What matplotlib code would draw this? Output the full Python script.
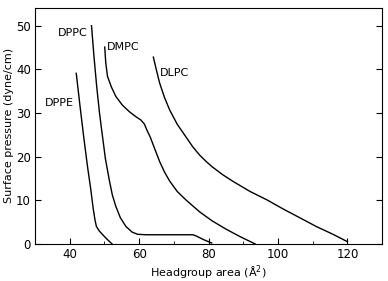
import matplotlib
matplotlib.use("Agg")
import matplotlib.pyplot as plt
from matplotlib.ticker import MultipleLocator

# isotermas pressão x área
dppe_area = [41.9, 43.0, 44.1, 45.1, 46.1, 46.8, 47.3, 47.7, 48.5, 50.0, 51.0, 52.2]
dppe_pi = [39.1, 31.5, 24.2, 18.0, 12.4, 8.0, 5.5, 4.0, 3.0, 1.7, 0.9, 0.0]

dppc_area = [46.3, 47.0, 47.8, 48.6, 49.4, 50.3, 51.4, 52.3, 53.3, 54.6, 56.2, 58.0,
             59.6, 62.0, 70.0, 75.5, 76.5, 78.5, 80.9]
dppc_pi = [50.0, 43.0, 36.0, 30.0, 25.0, 19.5, 14.7, 11.2, 8.6, 6.0, 4.0, 2.7,
           2.2, 2.1, 2.1, 2.1, 1.8, 1.0, 0.2]

dmpc_area = [50.1, 50.4, 50.9, 52.0, 53.3, 55.2, 57.2, 59.0, 60.5, 61.5, 62.3, 63.2,
             64.5, 65.9, 67.3, 68.8, 71.0, 73.6, 77.5, 81.0, 85.0, 89.0, 93.4]
dmpc_pi = [45.1, 41.5, 38.4, 36.0, 33.8, 31.8, 30.3, 29.2, 28.4, 27.5, 26.0, 24.5,
           21.8, 18.9, 16.5, 14.4, 12.0, 10.0, 7.3, 5.3, 3.4, 1.7, 0.0]

dlpc_area = [64.1, 65.0, 65.9, 67.3, 68.8, 71.0, 73.6, 75.5, 77.5, 79.3, 81.0, 84.0,
             87.1, 92.0, 96.8, 101.5, 106.5, 111.0, 116.1, 120.0]
dlpc_pi = [42.8, 39.8, 36.9, 33.6, 30.7, 27.4, 24.4, 22.2, 20.3, 18.9, 17.7, 15.9,
           14.3, 12.0, 10.1, 8.0, 5.9, 4.0, 2.1, 0.5]

fig = plt.figure(figsize=(3.88, 2.81), dpi=100)
ax = fig.add_axes([0.09, 0.132, 0.895, 0.84])

for xs, ys in [(dppe_area, dppe_pi), (dppc_area, dppc_pi), (dmpc_area, dmpc_pi), (dlpc_area, dlpc_pi)]:
    ax.plot(xs, ys, color="black", lw=1.0, solid_joinstyle="round")

# rótulos das curvas
ax.text(36.9, 32.3, "DPPE", ha="center", va="center", fontsize=8)
ax.text(41.0, 48.4, "DPPC", ha="center", va="center", fontsize=8)
ax.text(55.4, 45.2, "DMPC", ha="center", va="center", fontsize=8)
ax.text(70.2, 39.2, "DLPC", ha="center", va="center", fontsize=8)

ax.set_xlim(30, 130)
ax.set_ylim(0, 54.1)
ax.xaxis.set_major_locator(MultipleLocator(20))
ax.xaxis.set_minor_locator(MultipleLocator(10))
ax.yaxis.set_major_locator(MultipleLocator(10))
ax.tick_params(direction="in", which="both", top=False, right=True, labelsize=8.5, pad=3)
ax.tick_params(which="major", length=4)
ax.tick_params(which="minor", length=2.5)

ax.set_xlabel("Headgroup area (Å$^2$)", fontsize=8, labelpad=2)
ax.set_ylabel("Surface pressure (dyne/cm)", fontsize=8, labelpad=1)

plt.savefig("out.png", dpi=100)
